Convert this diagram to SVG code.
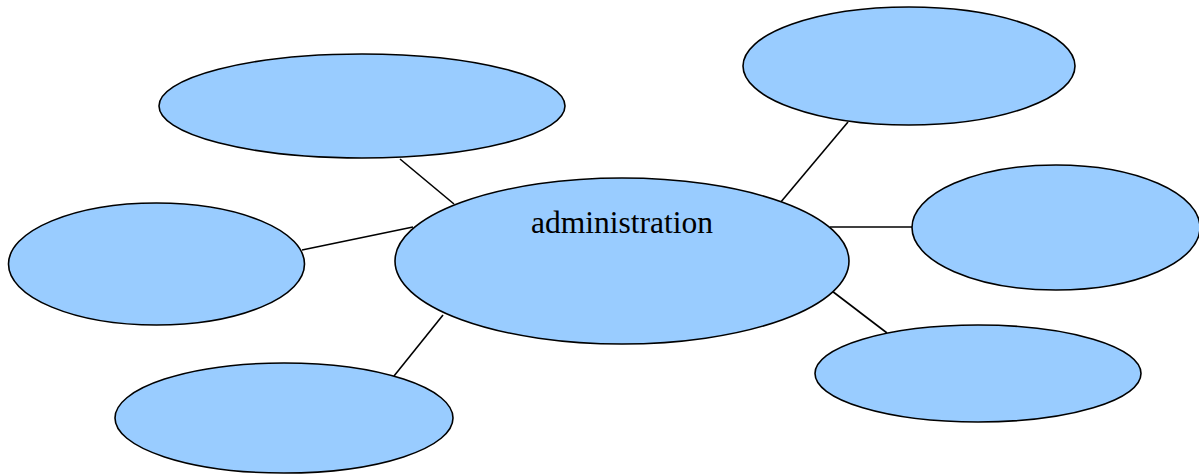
<svg xmlns="http://www.w3.org/2000/svg" width="1199" height="474" viewBox="0 0 1199 474">
  <style>
    .node { fill: #99ccff; stroke: #000; stroke-width: 1.6; }
    .edge { stroke: #000; stroke-width: 1.6; fill: none; }
    .label { font-family: "Liberation Serif", "Times New Roman", serif; font-size: 31.5px; fill: #000; text-anchor: middle; }
  </style>
  <rect width="1199" height="474" fill="#fff"/>
  <g id="connectors">
    <line class="edge" x1="400" y1="159" x2="454" y2="204"/>
    <line class="edge" x1="302" y1="250" x2="413" y2="227"/>
    <line class="edge" x1="443" y1="315" x2="394" y2="376"/>
    <line class="edge" x1="848" y1="122" x2="780" y2="203"/>
    <line class="edge" x1="830" y1="227" x2="912" y2="227"/>
    <line class="edge" x1="832" y1="291" x2="887" y2="333"/>
  </g>
  <g id="node-top-left"><ellipse class="node" cx="362" cy="106" rx="203" ry="52"/></g>
  <g id="node-left"><ellipse class="node" cx="156.5" cy="264" rx="148" ry="61"/></g>
  <g id="node-bottom-left"><ellipse class="node" cx="284" cy="418" rx="169" ry="55"/></g>
  <g id="node-top-right"><ellipse class="node" cx="909" cy="66" rx="166" ry="59"/></g>
  <g id="node-right"><ellipse class="node" cx="1056" cy="227.5" rx="144" ry="62.5"/></g>
  <g id="node-bottom-right"><ellipse class="node" cx="978" cy="373.5" rx="163" ry="48.5"/></g>
  <g id="node-administration">
    <ellipse class="node" cx="622" cy="261" rx="227" ry="83"/>
    <text class="label" x="622" y="233">administration</text>
  </g>
</svg>
